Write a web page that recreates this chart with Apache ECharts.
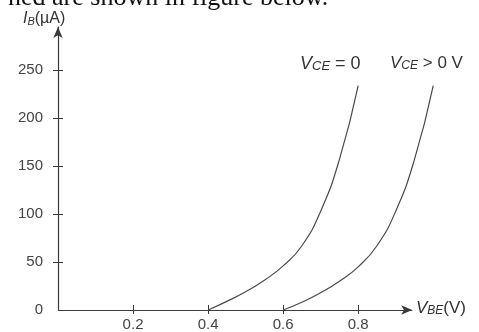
<!DOCTYPE html>
<html>
<head>
<meta charset="utf-8">
<script src="https://cdn.jsdelivr.net/npm/echarts@6/dist/echarts.min.js"></script>
<style>
  html, body { margin: 0; padding: 0; background: #fff; }
  #chart { width: 479px; height: 332px; }
</style>
</head>
<body>
<div id="chart"></div>
<script>
// Input characteristic of a BJT: base current vs base-emitter voltage
const vbeZero = [0.40, 0.45, 0.50, 0.55, 0.60, 0.65, 0.70, 0.75, 0.80];
const ibZero  = [0, 9, 19, 31, 46, 67, 103, 157, 234];

const vbePos = [0.60, 0.65, 0.70, 0.75, 0.80, 0.85, 0.90, 0.95, 1.00];
const ibPos  = [0, 8, 18, 30, 45, 67, 103, 157, 234];

const xTicks = [0.2, 0.4, 0.6, 0.8];
const yTicks = [0, 50, 100, 150, 200, 250];
const xArrowEnd = 0.944;   // where the V_BE axis arrow stops

const ink = '#3a3a3a';
const labelFont = '"Liberation Sans", Arial, sans-serif';

const chart = echarts.init(document.getElementById('chart'), null, { renderer: 'canvas' });

function pairs(xs, ys) { return xs.map((v, i) => [v, ys[i]]); }

const curveStyle = { color: '#4a4a4a', width: 1.2 };

function symbolText(main, sub, tail, size) {
  const subSize = Math.round(size * 0.7);
  return {
    text: '{v|' + main + '}{s|' + sub + '}{n|' + tail + '}',
    rich: {
      v: { fontSize: size, fontStyle: 'italic', fontFamily: labelFont, fill: '#333', verticalAlign: 'bottom', lineHeight: size + 3 },
      s: { fontSize: subSize, fontStyle: 'italic', fontFamily: labelFont, fill: '#333', verticalAlign: 'bottom', lineHeight: subSize + 2 },
      n: { fontSize: size, fontFamily: labelFont, fill: '#333', verticalAlign: 'bottom', lineHeight: size + 3 }
    }
  };
}

const option = {
  animation: false,
  backgroundColor: '#ffffff',
  grid: { left: 58, right: 27, top: 27, bottom: 22, containLabel: false },
  xAxis: [
    {
      type: 'value', min: 0, max: 1.05,
      axisLine: { show: false },
      axisTick: { show: true, inside: true, length: 5, lineStyle: { color: ink }, customValues: xTicks },
      axisLabel: { show: true, customValues: xTicks, color: '#444', fontSize: 15, fontFamily: labelFont, margin: 7,
                   formatter: v => v.toFixed(1) },
      splitLine: { show: false }
    },
    {
      type: 'value', min: 0, max: 1.05, position: 'bottom',
      axisLine: { show: false },
      axisTick: { show: true, inside: false, length: 4, lineStyle: { color: ink }, customValues: xTicks },
      axisLabel: { show: false },
      splitLine: { show: false }
    }
  ],
  yAxis: [
    {
      type: 'value', min: 0, max: 295,
      axisLine: { show: true, lineStyle: { color: ink, width: 1.2 }, symbol: ['none', 'arrow'], symbolSize: [7, 11] },
      axisTick: { show: true, inside: true, length: 5, lineStyle: { color: ink }, customValues: yTicks.slice(1) },
      axisLabel: { show: true, customValues: yTicks, color: '#444', fontSize: 15, fontFamily: labelFont, margin: 15 },
      splitLine: { show: false }
    },
    {
      type: 'value', min: 0, max: 295, position: 'left',
      axisLine: { show: false },
      axisTick: { show: true, inside: false, length: 5, lineStyle: { color: ink }, customValues: yTicks.slice(1) },
      axisLabel: { show: false },
      splitLine: { show: false }
    }
  ],
  series: [
    {
      name: 'VCE = 0', type: 'line', data: pairs(vbeZero, ibZero),
      smooth: 0.5, showSymbol: false,
      lineStyle: curveStyle, silent: true,
      // horizontal V_BE axis with its arrow head
      markLine: {
        silent: true, animation: false,
        symbol: ['none', 'arrow'], symbolSize: [7, 11],
        label: { show: false },
        lineStyle: { color: ink, width: 1.2, type: 'solid' },
        data: [[{ coord: [0, 0] }, { coord: [xArrowEnd, 0] }]]
      }
    },
    {
      name: 'VCE > 0 V', type: 'line', data: pairs(vbePos, ibPos),
      smooth: 0.5, showSymbol: false,
      lineStyle: curveStyle, silent: true
    }
  ],
  graphic: [
    {
      type: 'text', left: 8, top: -15, silent: true,
      style: { text: 'ned are shown in figure below.', font: '26px "Liberation Serif", "Times New Roman", serif', fill: '#111' }
    },
    { type: 'text', left: 23, top: 11, silent: true, style: symbolText('I', 'B', '(µA)', 16) },
    { type: 'text', left: 416, top: 300, silent: true, style: symbolText('V', 'BE', '(V)', 17) },
    { type: 'text', left: 300, top: 55, silent: true, style: symbolText('V', 'CE', ' = 0', 18) },
    { type: 'text', left: 390, top: 55, silent: true, style: symbolText('V', 'CE', ' > 0 V', 17) }
  ]
};

chart.setOption(option);
</script>
</body>
</html>
